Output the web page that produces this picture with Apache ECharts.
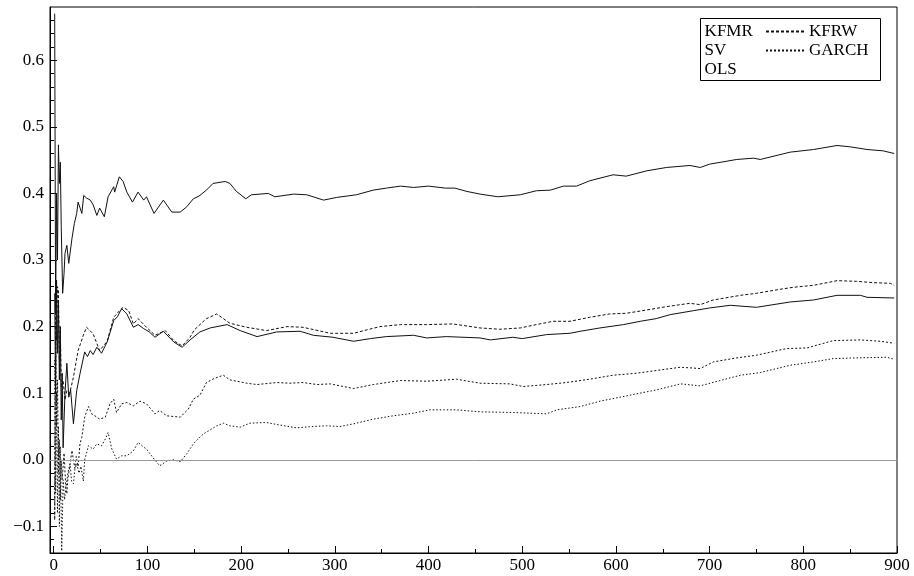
<!DOCTYPE html>
<html>
<head>
<meta charset="utf-8">
<script src="https://cdn.jsdelivr.net/npm/echarts@6/dist/echarts.min.js"></script>
<style>html,body{margin:0;padding:0;background:#fff;}#c{width:914px;height:576px;}</style>
</head>
<body>
<div id="c"></div>
<script>
// ---- data ----
var xTickLabels = [0,100,200,300,400,500,600,700,800,900];
var xMinorTicks = [50,150,250,350,450,550,650,750,850];
var yTickLabels = [-0.1,0,0.1,0.2,0.3,0.4,0.5,0.6];
var yMinorTicks = [-0.12,-0.08,-0.06,-0.04,-0.02,0.02,0.04,0.06,0.08,0.12,0.14,0.16,0.18,0.22,0.24,0.26,0.28,0.32,0.34,0.36,0.38,0.42,0.44,0.46,0.48,0.52,0.54,0.56,0.58,0.62,0.64,0.66];

var kfmrT = [1,2,3,4,5,6,7,8,9.5,11,12,14,16,19.5,22,24.5,26,30,32,35,39,42,46,49,54,58,64,65,70,74,78,84,90,96,99,107,117,126,135,142,149,155,163,170,183,188,195,205,211,229,236,256,270,288,302,323,341,355,370,384,400,418,428,441,455,474,498,515,530,544,558,572,597,611,633,654,679,690,700,729,747,754,786,811,836,850,868,885,897];
var kfmrV = [0.67,0.22,0.40,0.30,0.473,0.415,0.447,0.35,0.25,0.28,0.31,0.322,0.295,0.333,0.355,0.37,0.387,0.37,0.397,0.393,0.39,0.383,0.367,0.378,0.365,0.395,0.41,0.402,0.425,0.418,0.402,0.387,0.402,0.39,0.395,0.37,0.39,0.372,0.372,0.38,0.392,0.396,0.405,0.415,0.418,0.415,0.403,0.392,0.398,0.40,0.395,0.399,0.398,0.39,0.394,0.398,0.405,0.408,0.411,0.409,0.411,0.408,0.408,0.403,0.399,0.395,0.398,0.404,0.405,0.411,0.411,0.419,0.428,0.426,0.434,0.439,0.442,0.439,0.444,0.451,0.453,0.451,0.462,0.466,0.472,0.470,0.466,0.464,0.460];

var svT = [1,2,3,4,5,6,7,8,9,10,12,14,16,18,21,24.5,28,33,36,39,42,46,51,57,64,68,72.5,78,85,90,96,102,108,117,128,137,145.5,156,167,185,199,217,238,263,277,298,320,338,355,384,398,419,455,466,490,500,526,551,562,583,608,626,643,658,683,700,722,750,786,811,836,861,868,897];
var svV = [0.25,0.10,0.27,0.16,0.24,0.12,0.20,0.06,0.13,0.018,0.10,0.145,0.094,0.105,0.054,0.104,0.129,0.162,0.155,0.164,0.158,0.169,0.16,0.177,0.209,0.215,0.227,0.219,0.199,0.203,0.197,0.192,0.184,0.193,0.177,0.169,0.180,0.192,0.198,0.203,0.194,0.185,0.192,0.193,0.187,0.184,0.178,0.182,0.185,0.187,0.183,0.185,0.183,0.180,0.184,0.182,0.188,0.19,0.193,0.198,0.203,0.208,0.212,0.218,0.224,0.228,0.232,0.229,0.237,0.24,0.247,0.247,0.244,0.243];

var kfrwT = [1,2,3,4,5,6,7,8,10,12,14,17,21,26,31.6,35,38,42,49,57,64,69,74,80,85,90,99,108,119,128,137,145.5,150,156,163,174,188,206,227,249,266,295,320,348,370,398,426,455,476,498,515,533,551,572,593,611,633,654,679,690,704,733,750,775,789,811,836,857,875,893,897];
var kfrwV = [-0.09,0.25,0.18,0.26,0.254,0.15,0.20,0.11,0.119,0.09,0.104,0.10,0.124,0.164,0.187,0.199,0.195,0.189,0.164,0.178,0.214,0.222,0.229,0.224,0.204,0.212,0.199,0.187,0.194,0.179,0.171,0.184,0.195,0.203,0.212,0.219,0.205,0.199,0.194,0.2,0.199,0.19,0.19,0.2,0.203,0.203,0.204,0.198,0.196,0.198,0.203,0.208,0.208,0.214,0.219,0.22,0.225,0.23,0.235,0.233,0.24,0.247,0.25,0.256,0.259,0.262,0.269,0.268,0.266,0.265,0.262];

var garchT = [1,2,3,4,5,6,7,8,9,11,13,14,15,17,19.5,21,22.5,24,26,28,30,33,37,40.5,44,49,55,60,64,67,72.5,78,85,92,99,108,113,120.6,128,135,143.6,149,156,163,171,181,188,206,217,238,252,266,281,295,320,341,370,398,430,455,487,501,526,547,572,597,622,648,669,690,704,729,750,782,804,832,861,882,897];
var garchV = [-0.087,0.20,0.05,0.12,-0.02,0.03,-0.06,0.0,-0.03,0.01,-0.045,-0.051,-0.03,-0.01,0.014,0.0,-0.013,0.005,-0.01,0.024,0.034,0.064,0.08,0.069,0.066,0.061,0.064,0.084,0.091,0.071,0.084,0.086,0.081,0.088,0.084,0.069,0.074,0.066,0.065,0.064,0.076,0.091,0.097,0.116,0.122,0.127,0.12,0.115,0.113,0.116,0.115,0.116,0.113,0.114,0.107,0.113,0.119,0.118,0.121,0.115,0.114,0.11,0.113,0.116,0.121,0.127,0.13,0.135,0.139,0.137,0.147,0.153,0.157,0.167,0.168,0.179,0.18,0.178,0.175];

var olsT = [1,2,3,4,5,6,7,8.5,10,11.5,13,15,17.4,19,21,22.5,24.5,27,29,31.6,33,35,37,42,46,51,55,58,62,67,72.5,78,85,90,96,99,106,113,120.6,128,135,142,149,156,160,174,181,188,199,209.5,227,238,259,277,291,305.5,320,341,362,384,401.6,430,455,490.5,526,537,562,583,604.5,622,643.5,669,690,711,733,754,786,811,832,857,889,897];
var olsV = [0.15,-0.05,0.10,-0.08,0.05,-0.10,0.02,-0.137,-0.03,-0.06,-0.057,-0.02,-0.006,-0.032,-0.036,-0.015,-0.006,-0.02,-0.01,-0.032,0.0,0.01,0.021,0.016,0.024,0.021,0.031,0.041,0.016,0.001,0.006,0.006,0.0135,0.026,0.019,0.016,0.003,-0.009,-0.002,0.0,-0.003,0.009,0.024,0.034,0.039,0.051,0.055,0.051,0.049,0.055,0.056,0.053,0.048,0.05,0.051,0.05,0.054,0.061,0.066,0.07,0.075,0.075,0.072,0.071,0.069,0.075,0.08,0.088,0.094,0.099,0.105,0.114,0.111,0.119,0.127,0.131,0.142,0.147,0.152,0.153,0.154,0.151];

function pairs(t, v) { return t.map(function (x, i) { return [x, v[i]]; }); }

var FONT = 'Liberation Serif';
var chart = echarts.init(document.getElementById('c'), null, {renderer: 'canvas'});

function lineSeries(name, t, v, dash, extra) {
  var s = {
    name: name, type: 'line', data: pairs(t, v), xAxisIndex: 0, yAxisIndex: 0,
    showSymbol: false, symbol: 'none', animation: false, silent: true,
    lineStyle: {color: '#111', width: 1, type: dash},
    itemStyle: {color: '#111'}
  };
  if (extra) for (var k in extra) s[k] = extra[k];
  return s;
}

var option = {
  backgroundColor: '#fff',
  animation: false,
  grid: {left: 50, right: 17, top: 7, bottom: 23, show: true, borderColor: '#000', borderWidth: 1, containLabel: false},
  graphic: [{
    type: 'rect', z: 0, silent: true,
    shape: {x: 700.5, y: 18.5, width: 180, height: 62},
    style: {fill: '#fff', stroke: '#000', lineWidth: 1}
  }],
  legend: [{
    data: ['KFMR', 'SV', 'OLS'], orient: 'vertical', left: 694, top: 22, z: 5,
    itemWidth: 0, itemHeight: 14, itemGap: 0, padding: 0,
    itemStyle: {opacity: 0}, lineStyle: {opacity: 0},
    textStyle: {fontFamily: FONT, fontSize: 17, color: '#000', lineHeight: 19}
  }, {
    data: ['KFRW', 'GARCH'], orient: 'vertical', left: 765, top: 22, z: 5,
    itemWidth: 38, itemHeight: 14, itemGap: 0, padding: 0,
    itemStyle: {opacity: 0},
    textStyle: {fontFamily: FONT, fontSize: 17, color: '#000', lineHeight: 19}
  }],
  xAxis: [{
    type: 'value', min: -4, max: 900, position: 'bottom',
    axisLine: {show: true, onZero: false, lineStyle: {color: '#000', width: 1}},
    axisTick: {show: true, inside: true, length: 7, customValues: xTickLabels, lineStyle: {color: '#000'}},
    axisLabel: {show: true, customValues: xTickLabels, margin: 4, fontFamily: FONT, fontSize: 17, color: '#000'},
    splitLine: {show: false}
  }, {
    type: 'value', min: -4, max: 900, position: 'bottom',
    axisLine: {show: false, onZero: false},
    axisTick: {show: true, inside: true, length: 4, customValues: xMinorTicks, lineStyle: {color: '#000'}},
    axisLabel: {show: false},
    splitLine: {show: false}
  }],
  yAxis: [{
    type: 'value', min: -0.14, max: 0.68, position: 'left',
    axisLine: {show: true, onZero: false, lineStyle: {color: '#000', width: 1}},
    axisTick: {show: true, inside: true, length: 7, customValues: yTickLabels, lineStyle: {color: '#000'}},
    axisLabel: {show: true, customValues: yTickLabels, margin: 6, fontFamily: FONT, fontSize: 17, color: '#000',
      formatter: function (v) { return (v < -1e-9 ? '\u2212' : '') + Math.abs(v).toFixed(1); }},
    splitLine: {show: false}
  }, {
    type: 'value', min: -0.14, max: 0.68, position: 'left',
    axisLine: {show: false, onZero: false},
    axisTick: {show: true, inside: true, length: 4, customValues: yMinorTicks, lineStyle: {color: '#000'}},
    axisLabel: {show: false},
    splitLine: {show: false}
  }],
  series: [
    lineSeries('KFMR', kfmrT, kfmrV, 'solid', {
      markLine: {
        silent: true, symbol: ['none', 'none'], label: {show: false}, animation: false,
        lineStyle: {color: '#999', type: 'solid', width: 1},
        data: [{yAxis: 0}]
      }
    }),
    lineSeries('SV', svT, svV, 'solid'),
    lineSeries('OLS', olsT, olsV, [1.5, 2]),
    lineSeries('KFRW', kfrwT, kfrwV, [3, 2]),
    lineSeries('GARCH', garchT, garchV, [2, 2])
  ]
};
chart.setOption(option);
</script>
</body>
</html>
